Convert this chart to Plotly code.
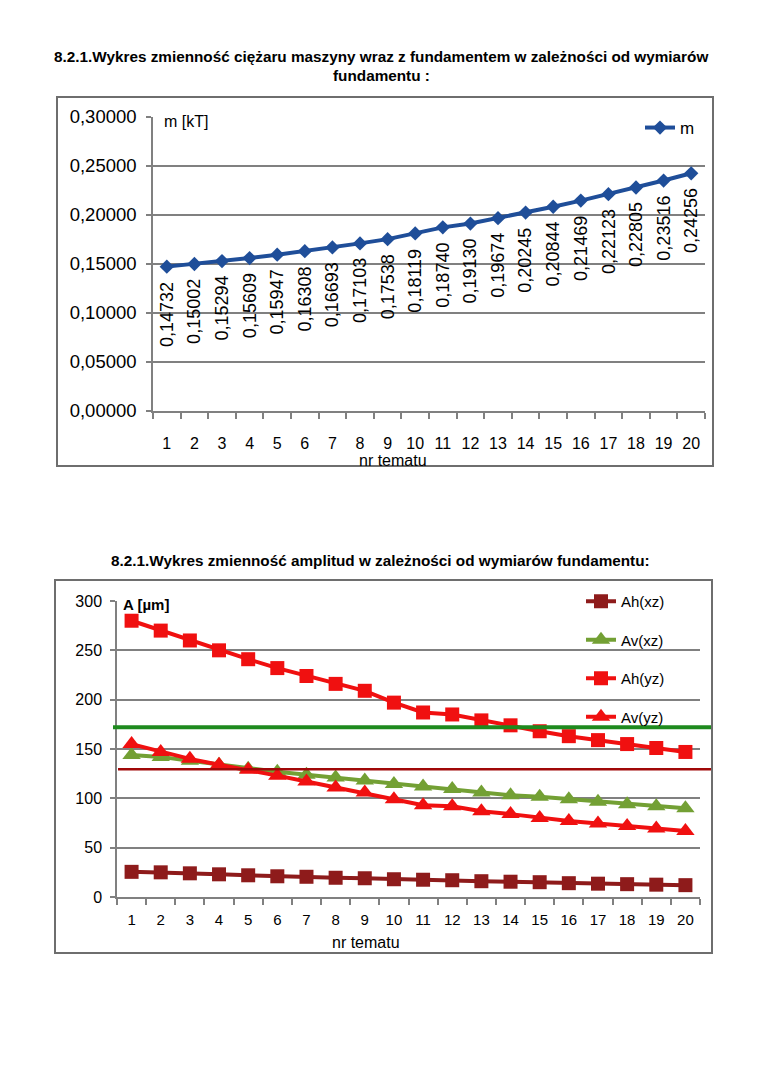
import plotly.graph_objects as go

# ---------------- data ----------------
nr = list(range(1, 21))
m_values = [0.14732, 0.15002, 0.15294, 0.15609, 0.15947, 0.16308, 0.16693, 0.17103, 0.17538, 0.18119,
            0.18740, 0.19130, 0.19674, 0.20245, 0.20844, 0.21469, 0.22123, 0.22805, 0.23516, 0.24256]
ah_xz = [25.5, 25, 24, 23, 22, 21, 20.5, 19.5, 19, 18, 17.5, 17, 16, 15.5, 15, 14, 13.5, 13, 12.5, 12]
av_xz = [144, 142, 138, 134, 130, 127, 124, 121, 118, 114.5, 112, 109.5, 106, 103, 101.5, 99, 96.6, 94, 92, 90]
ah_yz = [280, 270, 260, 250, 241, 232, 224, 216, 209, 197, 187, 185, 179, 174, 168, 163, 159, 155, 151, 147]
av_yz = [155, 147, 140, 134, 129, 123, 117, 111, 106, 99, 93, 92, 87, 84, 80, 77, 74.5, 72, 69.5, 67]
limit_green = 172
limit_red = 129.5
m_ticks = [0, 0.05, 0.10, 0.15, 0.20, 0.25, 0.30]
a_ticks = [0, 50, 100, 150, 200, 250, 300]

W, H = 760, 1075
OFF = 8  # page body margin
def px(x):
    return (x - OFF) / W
def py(y):
    return 1 - (y - OFF) / H

FONT = "Liberation Sans, Arial, sans-serif"
GRID = "#808080"

fig = go.Figure()

fig.add_trace(go.Scatter(
    x=nr, y=m_values, name="m", mode="lines+markers",
    line=dict(color="#1F4E99", width=4),
    marker=dict(symbol="diamond", size=11, color="#1F4E99"),
    xaxis="x", yaxis="y", legend="legend", showlegend=True))

series = [
    ("Ah(xz)", ah_xz, "#8E1B1B", "square", 14),
    ("Av(xz)", av_xz, "#73A034", "triangle-up", 16),
    ("Ah(yz)", ah_yz, "#F01010", "square", 14),
    ("Av(yz)", av_yz, "#F01010", "triangle-up", 16),
]
for name, vals, col, sym, sz in series:
    fig.add_trace(go.Scatter(
        x=nr, y=vals, name=name, mode="lines+markers",
        line=dict(color=col, width=4),
        marker=dict(symbol=sym, size=sz, color=col),
        xaxis="x2", yaxis="y2", legend="legend2", legendgroup=name))

annotations = []
# data labels (top chart)
for xi, v in zip(nr, m_values):
    annotations.append(dict(
        x=xi, y=v, xref="x", yref="y", text=f"{v:.5f}".replace(".", ","),
        textangle=-90, showarrow=False, yanchor="top", xanchor="center", yshift=-13,
        font=dict(family=FONT, size=18, color="black")))

def txt(x, y, s, size, xanchor="center"):
    return dict(x=px(x), y=py(y), xref="paper", yref="paper", showarrow=False,
                xanchor=xanchor, yanchor="middle", text=s,
                font=dict(family=FONT, size=size, color="black"))

annotations += [
    txt(381, 57, "<b>8.2.1.Wykres zmienność ciężaru maszyny wraz z fundamentem w zależności od wymiarów</b>", 15.3),
    txt(381, 76, "<b>fundamentu :</b>", 15.3),
    txt(380, 561, "<b>8.2.1.Wykres zmienność amplitud w zależności od wymiarów fundamentu:</b>", 15.3),
    txt(393, 460, "nr tematu", 16),
    txt(366, 942, "nr tematu", 16),
    txt(162, 121, "m [kT]", 16, "left"),
    txt(121, 604, "<b>A [µm]</b>", 15, "left"),
]

shapes = [
    dict(type="rect", xref="paper", yref="paper", x0=px(57), x1=px(713), y0=py(466), y1=py(97),
         line=dict(color="#6e6e6e", width=2), layer="below"),
    dict(type="rect", xref="paper", yref="paper", x0=px(55), x1=px(712), y0=py(953), y1=py(580),
         line=dict(color="#6e6e6e", width=2), layer="below"),
    dict(type="line", xref="paper", yref="y2", x0=px(113), x1=px(711), y0=limit_green, y1=limit_green,
         line=dict(color="#1E8A1E", width=4), layer="above"),
    dict(type="line", xref="paper", yref="y2", x0=px(118), x1=px(711), y0=limit_red, y1=limit_red,
         line=dict(color="#A00808", width=2.5), layer="above"),
]

def xax(domain, anchor, standoff, fsize):
    return dict(domain=domain, anchor=anchor, range=[0.5, 20.5], tickmode="array",
                tickvals=nr, ticktext=[str(n) for n in nr], ticks="", showgrid=False,
                zeroline=False, showline=True, linecolor=GRID, linewidth=1.5,
                tickfont=dict(family=FONT, size=fsize, color="black"),
                ticklabelstandoff=standoff, automargin=False,
                minor=dict(tick0=0.5, dtick=1, ticks="outside", ticklen=6, tickwidth=1.5,
                           tickcolor=GRID, showgrid=False))

def yax(domain, anchor, rng, tickvals, fmt, fsize, standoff):
    return dict(domain=domain, anchor=anchor, range=rng, tickmode="array", tickvals=tickvals,
                tickformat=fmt, showgrid=True, gridcolor=GRID, gridwidth=1.5, zeroline=False,
                showline=True, linecolor=GRID, linewidth=1.5, ticks="outside", ticklen=5,
                tickwidth=1.5, tickcolor=GRID, ticklabelstandoff=standoff, automargin=False,
                tickfont=dict(family=FONT, size=fsize, color="black"))

fig.update_layout(
    width=W, height=H, margin=dict(l=0, r=0, t=0, b=0, autoexpand=False),
    paper_bgcolor="white", plot_bgcolor="white", separators=", ", showlegend=True,
    font=dict(family=FONT, color="black"),
    xaxis=xax([px(153), px(705)], "y", 17, 16),
    yaxis=yax([py(411), py(117)], "x", [0, 0.3], m_ticks, ".5f", 18.5, 6),
    xaxis2=xax([px(117), px(700)], "y2", 8, 15),
    yaxis2=yax([py(897), py(601)], "x2", [0, 300], a_ticks, "d", 16, 5),
    legend=dict(x=px(640), y=py(110), xanchor="left", yanchor="top", bgcolor="rgba(0,0,0,0)",
                font=dict(family=FONT, size=17, color="black")),
    legend2=dict(x=px(581), y=py(585), xanchor="left", yanchor="top", bgcolor="rgba(0,0,0,0)",
                 tracegroupgap=16, font=dict(family=FONT, size=15, color="black")),
    annotations=annotations, shapes=shapes,
)

fig.write_html("out.html")
